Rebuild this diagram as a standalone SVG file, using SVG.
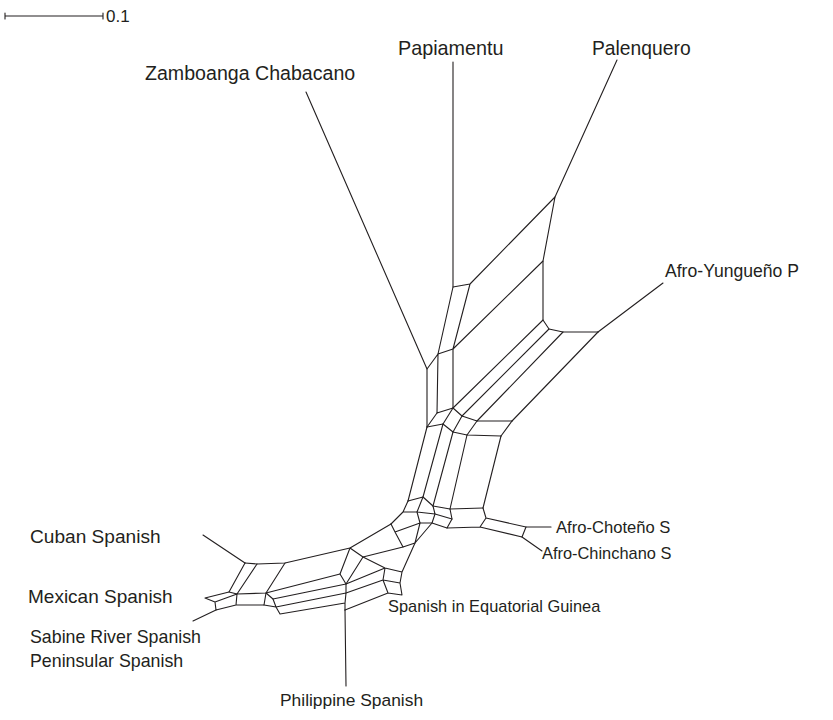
<svg xmlns="http://www.w3.org/2000/svg" width="833" height="720" viewBox="0 0 833 720">
<style>
.e{stroke:#231f20;stroke-width:1.1;fill:none;stroke-linejoin:round;stroke-linecap:round}
.t{font-family:"Liberation Sans",Arial,sans-serif;fill:#231f20}
</style>
<rect width="833" height="720" fill="#fff"/>
<g id="scale">
<path class="e" d="M5,16H103M5,13V19M103,13V19"/>
<text class="t" x="106" y="22" font-size="17">0.1</text>
</g>
<g id="connectors" class="e">
<!-- pendants -->
<path d="M306,92L427,369"/>
<path d="M453,62L453,287"/>
<path d="M617,60L555,197"/>
<path d="M663,283L598,332"/>
<path d="M551,527L526,527"/>
<path d="M542,551L522,537"/>
<path d="M203,535L245,563"/>
<path d="M216,610L193,621"/>
<path d="M345,610L346,686"/>
<!-- upper -->
<path d="M453,287L470,284M453,287L438,354M470,284L453,349M438,354L453,349M470,284L555,197M555,197L543,261M453,349L543,261"/>
<path d="M427,369L438,354M427,369L427,427M438,354L437,413M453,349L453,408M437,413L453,408"/>
<path d="M543,261L543,320L549,329L563,332L598,332"/>
<path d="M543,320L453,408M549,329L462,416M563,332L477,421M598,332L512,421"/>
<path d="M453,408L462,416L477,421L512,421"/>
<path d="M427,427L437,413M443,424L453,408M453,432L462,416M467,435L477,421M501,436L512,421"/>
<path d="M427,427L443,424L453,432L467,435L501,436"/>
<path d="M427,427L408,501M443,424L423,497M453,432L433,506M467,435L450,509M501,436L483,508"/>
<path d="M408,501L423,497L433,506L450,509L483,508"/>
<path d="M483,508L486,518L480,527L447,528L452,519L450,509M486,518L526,527L522,537L480,527"/>
<!-- hub -->
<path d="M408,501L403,512L391,524M403,512L417,512L435,514L452,519M423,497L417,512M433,506L435,514"/>
<path d="M417,512L420,523L432,523L447,528M435,514L432,523"/>
<path d="M391,524L395,532L420,523M395,532L403,547L415,543L420,523M415,543L432,523"/>
<!-- lower left band -->
<path d="M391,524L350,548L285,563L257,564L245,563"/>
<path d="M245,563L229,592M257,564L237,594M285,563L266,593M229,592L237,594L266,593"/>
<path d="M229,592L205,598L215,602L237,594M215,602L216,610L236,605L237,594M236,605L264,605L266,593"/>
<path d="M350,548L340,574L266,593M350,548L363,557L403,547M363,557L346,584L273,599L266,593"/>
<path d="M264,605L276,607L346,593L346,584M273,599L276,607M276,607L280,614L345,603L346,593M345,603L345,610"/>
<!-- EG / Philippine region -->
<path d="M340,574L346,584M363,557L385,568L402,572L415,543M385,568L383,580L400,583L402,572M383,580L388,593L402,595L400,583M388,593L345,610M346,593L383,580M346,584L385,568"/>
</g>
<g id="labels">
<text class="t" x="145" y="80" font-size="19.6">Zamboanga Chabacano</text>
<text class="t" x="398" y="55" font-size="19.8">Papiamentu</text>
<text class="t" x="592" y="55" font-size="19.3">Palenquero</text>
<text class="t" x="665" y="277" font-size="17.6">Afro-Yungueño P</text>
<text class="t" x="556" y="533" font-size="16.6">Afro-Choteño S</text>
<text class="t" x="542" y="559" font-size="16.4">Afro-Chinchano S</text>
<text class="t" x="30" y="543" font-size="19.1">Cuban Spanish</text>
<text class="t" x="28" y="603" font-size="19">Mexican Spanish</text>
<text class="t" x="30" y="643" font-size="17.8">Sabine River Spanish</text>
<text class="t" x="30" y="667" font-size="17.8">Peninsular Spanish</text>
<text class="t" x="388" y="612" font-size="16.4">Spanish in Equatorial Guinea</text>
<text class="t" x="280" y="706" font-size="17.4">Philippine Spanish</text>
</g>
</svg>
